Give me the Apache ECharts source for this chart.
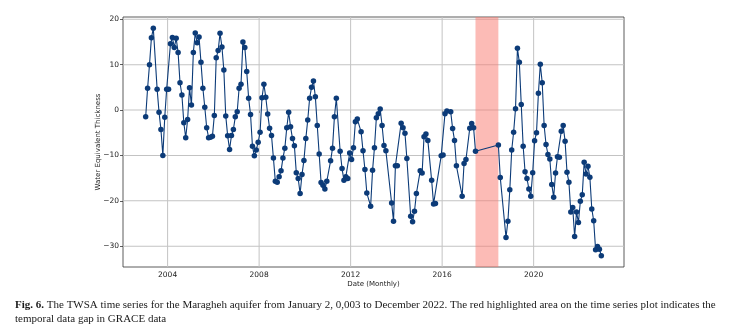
<!DOCTYPE html>
<html>
<head>
<meta charset="utf-8">
<script src="https://cdn.jsdelivr.net/npm/echarts@6/dist/echarts.min.js"></script>
<style>
html,body{margin:0;padding:0;background:#fff;}
#chart{width:729px;height:331px;}
</style>
</head>
<body>
<div id="chart"></div>
<script>
// Monthly dates (YYYY-MM) of the TWSA series
const dates = [
 '2003-01','2003-02','2003-03','2003-04','2003-05','2003-07','2003-08','2003-09','2003-10','2003-11','2003-12',
 '2004-01','2004-02','2004-03','2004-04','2004-05','2004-06','2004-07','2004-08','2004-09','2004-10','2004-11','2004-12',
 '2005-01','2005-02','2005-03','2005-04','2005-05','2005-06','2005-07','2005-08','2005-09','2005-10','2005-11','2005-12',
 '2006-01','2006-02','2006-03','2006-04','2006-05','2006-06','2006-07','2006-08','2006-09','2006-10','2006-11','2006-12',
 '2007-01','2007-02','2007-03','2007-04','2007-05','2007-06','2007-07','2007-08','2007-09','2007-10','2007-11','2007-12',
 '2008-01','2008-02','2008-03','2008-04','2008-05','2008-06','2008-07','2008-08','2008-09','2008-10','2008-11','2008-12',
 '2009-01','2009-02','2009-03','2009-04','2009-05','2009-06','2009-07','2009-08','2009-09','2009-10','2009-11','2009-12',
 '2010-01','2010-02','2010-03','2010-04','2010-05','2010-06','2010-07','2010-08','2010-09','2010-10','2010-11','2010-12',
 '2011-02','2011-03','2011-04','2011-05','2011-07','2011-08','2011-09','2011-10','2011-11','2011-12',
 '2012-01','2012-02','2012-03','2012-04','2012-06','2012-07','2012-08','2012-09','2012-11','2012-12',
 '2013-01','2013-02','2013-03','2013-04','2013-05','2013-06','2013-07','2013-10','2013-11','2013-12',
 '2014-01','2014-03','2014-04','2014-05','2014-06','2014-08','2014-09','2014-10','2014-11',
 '2015-01','2015-02','2015-03','2015-04','2015-05','2015-07','2015-08','2015-09','2015-12',
 '2016-01','2016-02','2016-03','2016-05','2016-06','2016-07','2016-08','2016-11','2016-12',
 '2017-01','2017-03','2017-04','2017-05','2017-06',
 '2018-06','2018-07','2018-10','2018-11','2018-12',
 '2019-01','2019-02','2019-03','2019-04','2019-05','2019-06','2019-07','2019-08','2019-09','2019-10','2019-11','2019-12',
 '2020-01','2020-02','2020-03','2020-04','2020-05','2020-06','2020-07','2020-08','2020-09','2020-10','2020-11','2020-12',
 '2021-01','2021-02','2021-03','2021-04','2021-05','2021-06','2021-07','2021-08','2021-09','2021-10','2021-11','2021-12',
 '2022-01','2022-02','2022-03','2022-04','2022-05','2022-06','2022-07','2022-08','2022-09','2022-10','2022-11','2022-12'
];
// Water Equivalent Thickness values matching dates
const twsa = [
 -1.5,4.8,10.0,15.9,18.0,4.6,-0.5,-4.3,-10.0,-1.6,4.6,
 4.6,14.6,16.0,13.8,15.8,12.7,6.0,3.3,-2.8,-6.1,-2.1,4.9,
 1.1,12.7,17.0,14.8,16.1,10.5,4.8,0.6,-3.9,-6.1,-6.0,-5.8,
 -1.2,11.5,13.1,16.9,13.9,8.8,-1.3,-5.7,-8.7,-5.6,-4.3,-1.5,
 -0.4,4.8,5.7,15.0,13.8,8.5,2.6,-1.0,-8.0,-10.1,-8.8,-7.1,
 -4.9,2.7,5.7,2.8,-0.9,-4.0,-5.6,-10.6,-15.7,-15.9,-14.7,-13.4,
 -10.6,-8.4,-3.9,-0.5,-3.7,-6.3,-7.9,-13.8,-15.1,-18.4,-14.2,-11.1,
 -6.3,-2.2,2.6,5.0,6.4,2.9,-3.4,-9.7,-16.0,-16.6,-17.4,-15.7,
 -11.2,-8.4,-1.5,2.6,-9.1,-12.9,-15.5,-14.7,-15.1,-9.5,
 -10.9,-8.3,-2.6,-2.0,-4.8,-9.0,-13.1,-18.3,-21.2,-13.3,
 -8.3,-1.7,-0.8,0.2,-3.4,-7.8,-9.0,-20.5,-24.5,-12.3,
 -12.3,-2.9,-3.9,-5.1,-10.7,-23.4,-24.6,-22.3,-18.4,
 -13.4,-13.9,-5.9,-5.3,-6.7,-15.5,-20.7,-20.6,-10.1,
 -9.9,-0.8,-0.2,-0.4,-4.1,-6.7,-12.3,-19.0,-11.8,
 -10.9,-4.0,-3.0,-3.9,-9.1,
 -7.7,-14.9,-28.1,-24.5,-17.6,
 -8.8,-4.9,0.3,13.6,10.5,1.2,-8.0,-13.6,-15.1,-17.4,-19.0,-13.8,
 -6.8,-5.0,3.7,10.1,6.0,-3.4,-7.6,-9.8,-10.8,-16.4,-19.2,-13.9,
 -10.3,-10.4,-4.7,-3.4,-6.9,-13.7,-15.9,-22.5,-21.5,-27.9,-22.5,-24.8,
 -20.1,-18.7,-11.5,-14.1,-12.4,-14.8,-21.8,-24.4,-30.8,-30.1,-30.7,-32.1
];
const gapMonths = ['2017-06', '2018-06'];   // GRACE / GRACE-FO data gap
const xTicks = [2004, 2008, 2012, 2016, 2020];
const yTicks = [-30, -20, -10, 0, 10, 20];
const xRange = [2002.05, 2023.95];
const yRange = [-34.6, 20.5];

function toYear(s) {
  const [y, m] = s.split('-').map(Number);
  return y + (m - 0.5) / 12;
}
const seriesData = dates.map((d, i) => [toYear(d), twsa[i]]);

// plot box and half-pixel widths in data units (for 1px grid lines drawn as thin areas)
const box = {left: 123, top: 17, width: 501, height: 250};
const halfPxX = 0.5 * (xRange[1] - xRange[0]) / box.width;
const halfPxY = 0.5 * (yRange[1] - yRange[0]) / box.height;
const gridAreas = xTicks.map(v => [{xAxis: v - halfPxX}, {xAxis: v + halfPxX}])
  .concat(yTicks.map(v => [{yAxis: v - halfPxY}, {yAxis: v + halfPxY}]));

const chart = echarts.init(document.getElementById('chart'), null, {renderer: 'canvas'});
const tickFont = {fontFamily: 'DejaVu Sans', fontSize: 7.5, color: '#222'};
chart.setOption({
  animation: false,
  backgroundColor: '#fff',
  title: {
    left: 10, top: 293,
    text: '{b|Fig. 6.} The TWSA time series for the Maragheh aquifer from January 2, 0,003 to December 2022. The red highlighted area on the time series plot indicates the\ntemporal data gap in GRACE data',
    textStyle: {
      fontFamily: 'Liberation Serif', fontSize: 11, fontWeight: 'normal', color: '#1a1a1a', lineHeight: 14,
      rich: {b: {fontFamily: 'Liberation Serif', fontSize: 11, fontWeight: 'bold', color: '#1a1a1a', lineHeight: 14}}
    }
  },
  grid: {...box, show: true, borderColor: '#333', borderWidth: 0.8, backgroundColor: 'transparent'},
  xAxis: {
    type: 'value', min: xRange[0], max: xRange[1],
    name: 'Date (Monthly)', nameLocation: 'middle', nameGap: 14, nameMoveOverlap: false,
    nameTextStyle: {fontFamily: 'DejaVu Sans', fontSize: 7, color: '#222'},
    axisLine: {show: false},
    axisTick: {show: true, customValues: xTicks, length: 3, lineStyle: {color: '#333', width: 0.8}},
    axisLabel: {customValues: xTicks, margin: 4, formatter: v => String(v), ...tickFont},
    splitLine: {show: false}
  },
  yAxis: {
    type: 'value', min: yRange[0], max: yRange[1],
    name: 'Water Equivalent Thickness', nameLocation: 'middle', nameRotate: 90, nameGap: 21, nameMoveOverlap: false,
    nameTextStyle: {fontFamily: 'DejaVu Sans', fontSize: 7, color: '#222'},
    axisLine: {show: false},
    axisTick: {show: true, customValues: yTicks, length: 3, lineStyle: {color: '#333', width: 0.8}},
    axisLabel: {customValues: yTicks, margin: 4, formatter: v => (v < 0 ? '\u2212' + Math.abs(v) : String(v)), ...tickFont},
    splitLine: {show: false}
  },
  series: [
    {
      type: 'line', data: [], silent: true,
      markArea: {
        silent: true,
        itemStyle: {color: '#c3c3c3'},
        data: gridAreas
      }
    },
    {
      type: 'line', data: [], silent: true,
      markArea: {
        silent: true,
        itemStyle: {color: 'rgba(250,120,110,0.5)'},
        data: [[{xAxis: toYear(gapMonths[0])}, {xAxis: toYear(gapMonths[1])}]]
      }
    },
    {
      type: 'line', data: seriesData, z: 3,
      symbol: 'circle', symbolSize: 5.5, showSymbol: true,
      lineStyle: {color: '#0c3b78', width: 1.1},
      itemStyle: {color: '#0c3b78'}
    }
  ]
});
</script>
</body>
</html>
